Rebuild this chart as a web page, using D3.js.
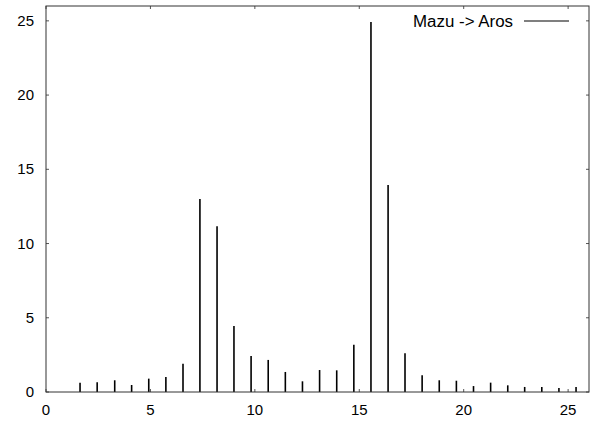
<!DOCTYPE html>
<html><head><meta charset="utf-8">
<script src="https://cdn.jsdelivr.net/npm/d3@7"></script>
<style>body{margin:0;background:#fff}svg{display:block}</style>
</head><body>
<script>
const xs = [1.63,2.45,3.29,4.10,4.92,5.74,6.56,7.37,8.19,9.00,9.82,10.64,11.46,12.28,13.10,13.92,14.74,15.56,16.38,17.19,18.01,18.83,19.65,20.47,21.29,22.11,22.92,23.74,24.56,25.38];
const ys = [0.63,0.65,0.79,0.47,0.90,1.01,1.91,13.0,11.17,4.45,2.43,2.16,1.35,0.72,1.48,1.46,3.19,24.93,13.95,2.61,1.12,0.79,0.76,0.40,0.63,0.45,0.34,0.34,0.27,0.34];
const xTicks = [0,5,10,15,20,25];
const yTicks = [0,5,10,15,20,25];
const seriesName = "Mazu -> Aros";

const W = 595, H = 424;
const L = 46, R = 589, T = 6, B = 392;
const svg = d3.select("body").append("svg").attr("width", W).attr("height", H)
  .style("font-family", "'Liberation Sans', Arial, sans-serif");
const x = d3.scaleLinear().domain([0, 26]).range([L, R]);
const y = d3.scaleLinear().domain([0, 26]).range([B, T]);

// ticks (inward, mirrored)
const tk = 3;
const g = svg.append("g").attr("stroke", "#555").attr("stroke-width", 1);
xTicks.forEach(v => {
  g.append("line").attr("x1", x(v)).attr("x2", x(v)).attr("y1", B).attr("y2", B - tk);
  g.append("line").attr("x1", x(v)).attr("x2", x(v)).attr("y1", T).attr("y2", T + tk);
});
yTicks.forEach(v => {
  g.append("line").attr("x1", L).attr("x2", L + tk).attr("y1", y(v)).attr("y2", y(v));
  g.append("line").attr("x1", R).attr("x2", R - tk).attr("y1", y(v)).attr("y2", y(v));
});

// impulses
svg.append("g").selectAll("line").data(xs).join("line")
  .attr("x1", (d) => x(d)).attr("x2", (d) => x(d))
  .attr("y1", y(0)).attr("y2", (d, i) => y(ys[i]))
  .attr("stroke", "#000").attr("stroke-width", 1.6);

// border
svg.append("rect").attr("x", L).attr("y", T).attr("width", R - L).attr("height", B - T)
  .attr("fill", "none").attr("stroke", "#333").attr("stroke-width", 1);

// tick labels
svg.append("g").selectAll("text").data(xTicks).join("text")
  .attr("x", d => x(d)).attr("y", 415).attr("text-anchor", "middle")
  .attr("font-size", 15).attr("fill", "#000").text(d => d);
svg.append("g").selectAll("text").data(yTicks).join("text")
  .attr("x", 34).attr("y", d => y(d) + 5).attr("text-anchor", "end")
  .attr("font-size", 15).attr("fill", "#000").text(d => d);

// legend
svg.append("text").attr("x", 413).attr("y", 27)
  .attr("font-size", 16).attr("textLength", 100).attr("lengthAdjust", "spacingAndGlyphs")
  .attr("fill", "#000").text(seriesName);
svg.append("line").attr("x1", 524).attr("x2", 569).attr("y1", 21).attr("y2", 21)
  .attr("stroke", "#000").attr("stroke-width", 1.2);
</script>
</body></html>
